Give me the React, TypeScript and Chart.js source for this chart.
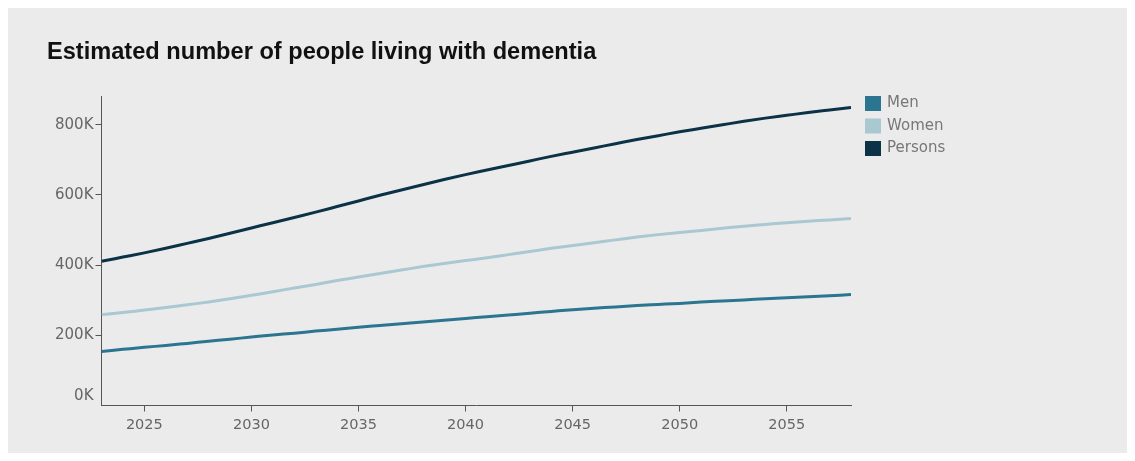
import { useEffect, useRef } from 'react';
import { Chart, registerables } from 'chart.js';

Chart.register(...registerables);

// Projection years
const years = [
  2023, 2024, 2025, 2026, 2027, 2028, 2029, 2030, 2031, 2032, 2033, 2034,
  2035, 2036, 2037, 2038, 2039, 2040, 2041, 2042, 2043, 2044, 2045, 2046,
  2047, 2048, 2049, 2050, 2051, 2052, 2053, 2054, 2055, 2056, 2057, 2058,
];

// Estimated number of people living with dementia (thousands)
const menK = [
  154, 160, 166, 171, 177, 183, 189, 195, 201, 206, 212, 217,
  223, 228, 233, 238, 243, 248, 253, 258, 263, 268, 273, 277,
  281, 285, 288, 291, 295, 298, 301, 304, 307, 310, 313, 316,
];
const womenK = [
  259, 265, 272, 279, 287, 295, 304, 314, 324, 335, 345, 356,
  366, 376, 386, 396, 405, 413, 421, 430, 439, 448, 456, 464,
  472, 480, 487, 493, 499, 505, 511, 516, 521, 525, 529, 533,
];
const personsK = [
  411, 423, 435, 448, 462, 476, 491, 506, 521, 536, 551, 567,
  583, 599, 614, 629, 644, 658, 671, 684, 697, 710, 722, 734,
  746, 758, 769, 780, 790, 800, 810, 819, 827, 835, 842, 849,
];

const seriesNames = ['Men', 'Women', 'Persons'];
const seriesColors = ['#2b7591', '#a9c8d2', '#0b3246'];

const xTickYears = [2025, 2030, 2035, 2040, 2045, 2050, 2055];
const yTickValues = [0, 200000, 400000, 600000, 800000];

const TITLE = 'Estimated number of people living with dementia';

const WIDTH = 1119;
const HEIGHT = 445;
const AXIS_COLOR = '#555555';
const TICK_TEXT = '#666666';

// moves the legend column next to the plot, level with its top edge
const legendNudge = {
  id: 'legendNudge',
  afterLayout(chart: any) {
    const lg = chart.legend;
    if (!lg) return;
    lg.left += 8;
    lg.right += 8;
    lg.top -= 7.5;
    lg.bottom -= 7.5;
  },
};

export default function App() {
  const canvasRef = useRef<HTMLCanvasElement | null>(null);

  useEffect(() => {
    const canvas = canvasRef.current;
    if (!canvas) return;

    const valuesK = [menK, womenK, personsK];
    const datasets = seriesNames.map((name, s) => ({
      label: name,
      data: years.map((yr, i) => ({ x: yr, y: valuesK[s][i] * 1000 })),
      borderColor: seriesColors[s],
      backgroundColor: seriesColors[s],
      borderWidth: 3,
      pointRadius: 0,
      pointHoverRadius: 0,
      cubicInterpolationMode: 'monotone' as const,
      fill: false,
    }));

    const chart = new Chart(canvas, {
      type: 'line',
      data: { datasets },
      plugins: [legendNudge],
      options: {
        animation: false,
        responsive: false,
        devicePixelRatio: 1,
        layout: { padding: { left: 39, right: 186, top: 0, bottom: 0 } },
        plugins: {
          tooltip: { enabled: false },
          title: {
            display: true,
            text: TITLE,
            align: 'start',
            color: '#111111',
            font: { family: '"Liberation Sans", Arial, sans-serif', weight: 'bold', size: 23.6, lineHeight: 1.2 },
            padding: { top: 30, bottom: 29.7 },
          },
          legend: {
            display: true,
            position: 'right',
            align: 'start',
            fullSize: false,
            maxWidth: 90,
            labels: {
              boxWidth: 13,
              boxHeight: 12,
              padding: 7.5,
              color: '#777777',
              font: { family: '"DejaVu Sans", sans-serif', size: 15 },
            },
          },
        },
        scales: {
          x: {
            type: 'linear',
            min: 2023,
            max: 2058,
            afterBuildTicks: (scale: any) => {
              scale.ticks = xTickYears.map((v) => ({ value: v }));
            },
            afterFit: (scale: any) => {
              scale.height = 47.5;
            },
            ticks: {
              color: TICK_TEXT,
              padding: 5.5,
              maxRotation: 0,
              font: { family: '"DejaVu Sans", sans-serif', size: 14.5, lineHeight: 1.2 },
              callback: (v: any) => String(v),
            },
            grid: {
              display: true,
              drawOnChartArea: false,
              drawTicks: true,
              tickLength: 6,
              tickColor: AXIS_COLOR,
              tickWidth: 1,
            },
            border: { display: true, color: AXIS_COLOR, width: 1 },
          },
          y: {
            type: 'linear',
            min: 0,
            max: 882000,
            afterBuildTicks: (scale: any) => {
              scale.ticks = yTickValues.map((v) => ({ value: v }));
            },
            afterFit: (scale: any) => {
              scale.width = 54.5;
            },
            ticks: {
              color: TICK_TEXT,
              padding: 2,
              font: { family: '"DejaVu Sans", sans-serif', size: 15, lineHeight: 1.2 },
              callback: (v: any) => (v === 0 ? ['0K', ''] : `${Math.round(v / 1000)}K`),
            },
            grid: {
              display: true,
              drawOnChartArea: false,
              drawTicks: true,
              tickLength: 6,
              tickColor: (ctx: any) => (ctx.tick && ctx.tick.value === 0 ? 'rgba(0,0,0,0)' : AXIS_COLOR),
              tickWidth: 1,
            },
            border: { display: true, color: AXIS_COLOR, width: 1 },
          },
        },
      },
    } as any);

    return () => chart.destroy();
  }, []);

  return (
    <div style={{ background: '#ebebeb', width: WIDTH, height: HEIGHT }}>
      <canvas ref={canvasRef} width={WIDTH} height={HEIGHT} style={{ display: 'block' }} />
    </div>
  );
}
